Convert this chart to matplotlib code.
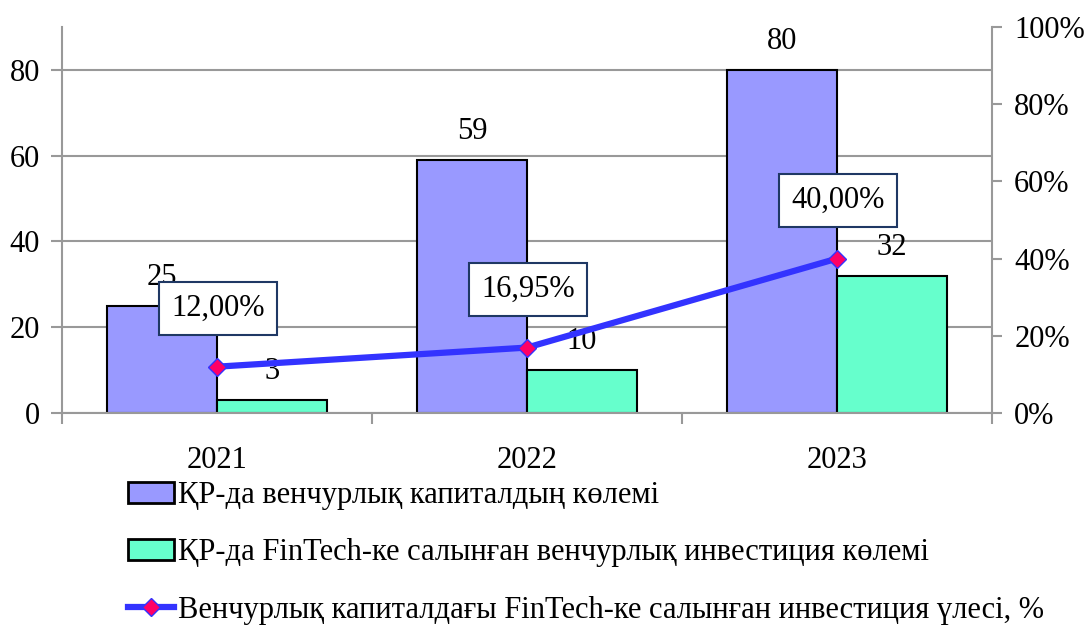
import matplotlib.pyplot as plt
import matplotlib.ticker as mticker
from matplotlib.patches import Patch
from matplotlib.lines import Line2D
import numpy as np

plt.rcParams['font.family'] = ['Liberation Serif', 'DejaVu Serif']

# --- data ---
years = ['2021', '2022', '2023']
venture_total = [25, 59, 80]          # ҚР-да венчурлық капитал
venture_fintech = [3, 10, 32]         # FinTech-ке салынған
fintech_share = [12.00, 16.95, 40.00] # %
share_labels = ['12,00%', '16,95%', '40,00%']

legend_labels = ['ҚР-да венчурлық капиталдың көлемі',
                 'ҚР-да FinTech-ке салынған венчурлық инвестиция көлемі',
                 'Венчурлық капиталдағы FinTech-ке салынған инвестиция үлесі, %']

FS = 22
GRAY = '#999999'
BLUE_BAR = '#9999FF'
GREEN_BAR = '#66FFCC'
LINE_C = '#3333FF'

fig = plt.figure(figsize=(10.84, 6.29), dpi=100)
ax = fig.add_axes([62/1084, 1-413/629, (992-62)/1084, (413-27)/629])

x = np.arange(len(years))
w = 0.355
b1 = ax.bar(x - w/2, venture_total, w, color=BLUE_BAR, edgecolor='black', linewidth=1.5, zorder=2)
b2 = ax.bar(x + w/2, venture_fintech, w, color=GREEN_BAR, edgecolor='black', linewidth=1.5, zorder=2)

for rect, v in zip(list(b1) + list(b2), venture_total + venture_fintech):
    ax.annotate(str(v), (rect.get_x() + rect.get_width()/2, rect.get_height()),
                xytext=(0, 10), textcoords='offset points', ha='center', va='bottom', fontsize=FS)

ax.set_xlim(-0.5, 2.5)
ax.set_ylim(0, 90)
ax.set_yticks([0, 20, 40, 60, 80])
ax.yaxis.grid(True, color=GRAY, linewidth=1.5)
ax.set_axisbelow(True)
ax.tick_params(axis='y', direction='out', length=8, width=1.5, color=GRAY, labelsize=FS, pad=8)

ax.set_xticks([-0.5, 0.5, 1.5, 2.5])
ax.set_xticklabels([])
ax.set_xticks(x, minor=True)
ax.set_xticklabels(years, minor=True)
ax.tick_params(axis='x', which='major', direction='out', length=8, width=1.5, color=GRAY)
ax.tick_params(axis='x', which='minor', length=0, labelsize=FS, pad=24)

for s in ['top', 'right']:
    ax.spines[s].set_visible(False)
for s in ['left', 'bottom']:
    ax.spines[s].set_color(GRAY)
    ax.spines[s].set_linewidth(1.5)

ax2 = ax.twinx()
ax2.set_ylim(0, 100)
ax2.set_yticks([0, 20, 40, 60, 80, 100])
ax2.yaxis.set_major_formatter(mticker.FuncFormatter(lambda v, p: f'{v:.0f}%'))
ax2.tick_params(axis='y', direction='out', length=7, width=1.5, color=GRAY, labelsize=FS, pad=9)
for s in ['top', 'left', 'bottom']:
    ax2.spines[s].set_visible(False)
ax2.spines['right'].set_color(GRAY)
ax2.spines['right'].set_linewidth(1.5)

ax2.plot(x, fintech_share, color=LINE_C, linewidth=4.5, marker='D', markersize=9,
         markerfacecolor='#FF0066', markeredgecolor=LINE_C, markeredgewidth=1, zorder=3)

for xi, v, lab in zip(x, fintech_share, share_labels):
    ax2.annotate(lab, (xi, v), xytext=(1, 42), textcoords='offset points', ha='center', va='center',
                 fontsize=FS, bbox=dict(boxstyle='square,pad=0.4', facecolor='white',
                                        edgecolor='#1F3864', linewidth=1.5))

handles = [Patch(facecolor=BLUE_BAR, edgecolor='black', linewidth=2),
           Patch(facecolor=GREEN_BAR, edgecolor='black', linewidth=2),
           Line2D([0], [0], color=LINE_C, linewidth=4.5, marker='D', markersize=9,
                  markerfacecolor='#FF0066', markeredgecolor=LINE_C)]
fig.legend(handles, legend_labels, loc='upper left', bbox_to_anchor=(128/1084, 1-481/629),
           frameon=False, fontsize=FS, labelspacing=0.93, handlelength=1.5, handletextpad=0.15,
           borderaxespad=0, borderpad=0)

fig.savefig('out.png', dpi=100)
